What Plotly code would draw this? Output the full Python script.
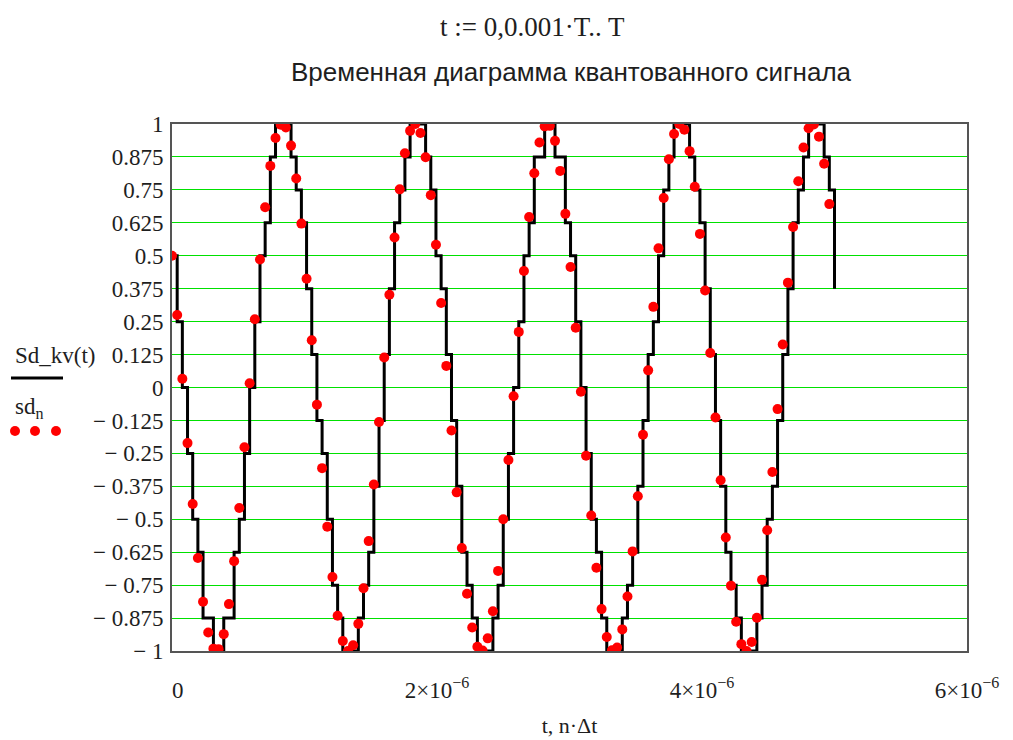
import numpy as np
import plotly.graph_objects as go

# ---- data ----
T = 5e-6            # signal duration, s
N_SAMPLES = 128     # number of samples sd_n

# sampled signal values sd_n (red dots)
sd_n = [
    0.500, 0.275, 0.033, -0.211, -0.442, -0.647, -0.813, -0.930, -0.991, -0.993,
    -0.936, -0.822, -0.659, -0.457, -0.227, 0.016, 0.259, 0.486, 0.684, 0.841,
    0.947, 0.997, 0.987, 0.918, 0.793, 0.622, 0.413, 0.179, -0.065, -0.306,
    -0.528, -0.719, -0.866, -0.962, -1.000, -0.978, -0.897, -0.762, -0.583, -0.368,
    -0.131, 0.114, 0.352, 0.569, 0.752, 0.889, 0.974, 1.000, 0.966, 0.874,
    0.730, 0.542, 0.321, 0.082, -0.163, -0.398, -0.609, -0.783, -0.911, -0.984,
    -0.998, -0.952, -0.849, -0.696, -0.500, -0.275, -0.033, 0.211, 0.442, 0.647,
    0.813, 0.930, 0.991, 0.993, 0.936, 0.822, 0.659, 0.457, 0.227, -0.016,
    -0.259, -0.486, -0.684, -0.841, -0.947, -0.997, -0.987, -0.918, -0.793, -0.622,
    -0.413, -0.179, 0.065, 0.306, 0.528, 0.719, 0.866, 0.962, 1.000, 0.978,
    0.897, 0.762, 0.583, 0.368, 0.131, -0.114, -0.352, -0.569, -0.752, -0.889,
    -0.974, -1.000, -0.966, -0.874, -0.730, -0.542, -0.321, -0.082, 0.163, 0.398,
    0.609, 0.783, 0.911, 0.984, 0.998, 0.952, 0.849, 0.696,
]

# quantized levels Sd_kv held over each sample interval (black staircase)
sd_kv_levels = [
    0.5, 0.25, 0, -0.25, -0.5, -0.625, -0.875, -0.875, -1, -1,
    -0.875, -0.875, -0.625, -0.5, -0.25, 0, 0.25, 0.5, 0.625, 0.875,
    1, 1, 1, 0.875, 0.75, 0.625, 0.375, 0.125, -0.125, -0.25,
    -0.5, -0.75, -0.875, -1, -1, -1, -0.875, -0.75, -0.625, -0.375,
    -0.125, 0.125, 0.375, 0.625, 0.75, 0.875, 1, 1, 1, 0.875,
    0.75, 0.5, 0.375, 0.125, -0.125, -0.375, -0.625, -0.75, -0.875, -1,
    -1, -1, -0.875, -0.75, -0.5, -0.25, 0, 0.25, 0.5, 0.625,
    0.875, 0.875, 1, 1, 0.875, 0.875, 0.625, 0.5, 0.25, 0,
    -0.25, -0.5, -0.625, -0.875, -1, -1, -1, -0.875, -0.75, -0.625,
    -0.375, -0.125, 0.125, 0.25, 0.5, 0.75, 0.875, 1, 1, 1,
    0.875, 0.75, 0.625, 0.375, 0.125, -0.125, -0.375, -0.625, -0.75, -0.875,
    -1, -1, -1, -0.875, -0.75, -0.5, -0.375, -0.125, 0.125, 0.375,
    0.625, 0.75, 0.875, 1, 1, 1, 0.875, 0.75,
]
sd_kv_end = 0.375   # value of Sd_kv at t = T

y_ticks = [1, 0.875, 0.75, 0.625, 0.5, 0.375, 0.25, 0.125, 0,
           -0.125, -0.25, -0.375, -0.5, -0.625, -0.75, -0.875, -1]
y_ticktext = ["1", "0.875", "0.75", "0.625", "0.5", "0.375", "0.25", "0.125", "0",
              "\u2212 0.125", "\u2212 0.25", "\u2212 0.375", "\u2212 0.5", "\u2212 0.625",
              "\u2212 0.75", "\u2212 0.875", "\u2212 1"]
x_ticks = [0, 2e-6, 4e-6, 6e-6]
x_ticktext = ["\u20020", "2\u00d710<sup>\u22126</sup>", "4\u00d710<sup>\u22126</sup>",
              "6\u00d710<sup>\u22126</sup>"]

# ---- build ----
dt = T / N_SAMPLES
t_n = np.arange(N_SAMPLES) * dt

SERIF = "Liberation Serif, Times New Roman, serif"
SANS = "Liberation Sans, Arial, sans-serif"
TXT = "#1e1e1e"

fig = go.Figure()
fig.add_trace(go.Scatter(
    x=list(t_n) + [T], y=sd_kv_levels + [sd_kv_end],
    mode="lines", line=dict(color="black", width=3, shape="hv"),
    showlegend=False, hoverinfo="skip"))
fig.add_trace(go.Scatter(
    x=t_n, y=sd_n, mode="markers",
    marker=dict(color="#ff0000", size=10, line=dict(width=0)),
    showlegend=False, cliponaxis=True))

# page offset (body margin) and figure geometry
OFF = 8
W, H = 1013 - OFF, 740 - OFF
PL, PT, PR, PB = 172, 124, 967, 651        # plot area in screen pixels
L, TOP = PL - OFF, PT - OFF
R, B = W - (PR - OFF), H - (PB - OFF)
pw, ph = W - L - R, H - TOP - B


def px(sx):
    return (sx - OFF - L) / pw


def py(sy):
    return (H - B - (sy - OFF)) / ph


fig.update_layout(
    width=W, height=H,
    margin=dict(l=L, r=R, t=TOP, b=B, autoexpand=False),
    paper_bgcolor="white", plot_bgcolor="white",
    showlegend=False,
    xaxis=dict(
        range=[0, 6e-6], tickvals=x_ticks, ticktext=x_ticktext,
        showgrid=False, zeroline=False, ticks="",
        showline=True, mirror=True, linecolor="#555555", linewidth=2,
        tickfont=dict(family=SERIF, size=23, color=TXT),
        ticklabelstandoff=17, automargin=False,
        title=dict(text="t, n\u00b7\u0394t", font=dict(family=SERIF, size=22, color=TXT),
                   standoff=16),
    ),
    yaxis=dict(
        range=[-1, 1], tickvals=y_ticks, ticktext=y_ticktext,
        showgrid=True, gridcolor="rgb(0,225,0)", gridwidth=1,
        zeroline=False, ticks="", automargin=False,
        showline=True, mirror=True, linecolor="#555555", linewidth=2,
        tickfont=dict(family=SERIF, size=23, color=TXT),
        ticklabelstandoff=2,
    ),
    annotations=[
        dict(text="t := 0,0.001\u00b7T.. T", xref="paper", yref="paper",
             x=px(532), y=py(27), showarrow=False, xanchor="center", yanchor="middle",
             font=dict(family=SERIF, size=27, color=TXT)),
        dict(text="Временная диаграмма квантованного сигнала", xref="paper", yref="paper",
             x=px(571), y=py(72), showarrow=False, xanchor="center", yanchor="middle",
             font=dict(family=SANS, size=26, color=TXT)),
        dict(text="Sd_kv(t)", xref="paper", yref="paper",
             x=px(13), y=py(355), showarrow=False, xanchor="left", yanchor="middle",
             font=dict(family=SERIF, size=23, color=TXT)),
        dict(text="sd<sub>n</sub>", xref="paper", yref="paper",
             x=px(13), y=py(408), showarrow=False, xanchor="left", yanchor="middle",
             font=dict(family=SERIF, size=23, color=TXT)),
    ],
    shapes=[
        dict(type="line", xref="paper", yref="paper",
             x0=px(11), x1=px(63), y0=py(378), y1=py(378),
             line=dict(color="black", width=3)),
    ] + [
        dict(type="circle", xref="paper", yref="paper",
             xsizemode="pixel", ysizemode="pixel",
             xanchor=px(cx), yanchor=py(431),
             x0=-5, x1=5, y0=-5, y1=5,
             fillcolor="#ff0000", line=dict(width=0))
        for cx in (15, 35, 56)
    ],
)

fig.write_html("out.html")
